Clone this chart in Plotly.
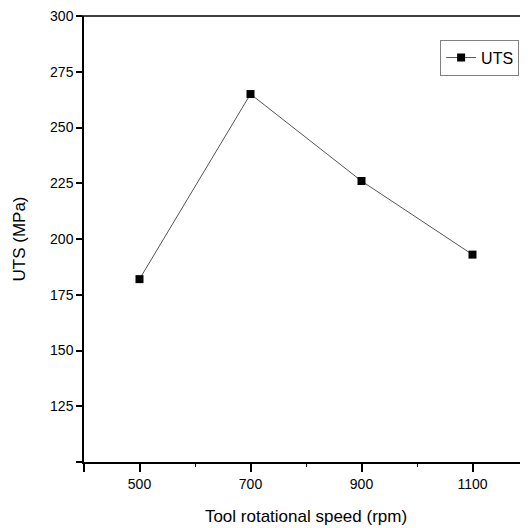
import plotly.graph_objects as go

speed = [500, 700, 900, 1100]
uts = [182, 265, 226, 193]

x_tickvals = [400, 500, 700, 900, 1100]
x_ticktext = ["", "500", "700", "900", "1100"]
x_minor = [600, 800, 1000, 1200]
y_tickvals = [100, 125, 150, 175, 200, 225, 250, 275, 300]
y_ticktext = ["", "125", "150", "175", "200", "225", "250", "275", "300"]

fig = go.Figure()
fig.add_trace(go.Scatter(
    x=speed, y=uts, name="UTS", mode="lines+markers",
    line=dict(color="#555555", width=1),
    marker=dict(symbol="square", size=8, color="black"),
))

# page body has an 8px default margin, so the figure is 520x520 placed at (8,8)
fig.update_layout(
    width=520, height=520,
    margin=dict(l=76, r=0, t=8, b=66, autoexpand=False),
    paper_bgcolor="white", plot_bgcolor="white",
    font=dict(family="Liberation Sans, Arial, sans-serif", color="black"),
    showlegend=True,
    legend=dict(
        x=0.98, y=0.947, xanchor="right", yanchor="top",
        bordercolor="#808080", borderwidth=1,
        font=dict(size=16, color="black"),
        bgcolor="white",
    ),
    xaxis=dict(
        range=[400, 1200], showgrid=False, zeroline=False,
        showline=True, linecolor="black", linewidth=1.5,
        ticks="outside", ticklen=8, tickwidth=1.5, tickcolor="black",
        tickvals=x_tickvals, ticktext=x_ticktext,
        tickfont=dict(size=14), ticklabeloverflow="allow",
        minor=dict(tickvals=x_minor, ticks="outside", ticklen=3, tickwidth=1, tickcolor="black"),
        automargin=True,
        title=dict(text="Tool rotational speed (rpm)", font=dict(size=17), standoff=20),
    ),
    yaxis=dict(
        range=[100, 300], showgrid=False, zeroline=False,
        showline=True, linecolor="black", linewidth=1.5,
        ticks="outside", ticklen=6, tickwidth=1.5, tickcolor="black",
        tickvals=y_tickvals, ticktext=y_ticktext,
        tickfont=dict(size=14), ticklabeloverflow="allow",
        automargin=True,
        title=dict(text="UTS (MPa)", font=dict(size=17), standoff=20),
    ),
)

fig.add_shape(type="line", xref="paper", yref="paper",
              x0=-7/444, x1=1, y0=1, y1=1,
              line=dict(color="black", width=1.5))

fig.write_html("out.html")
